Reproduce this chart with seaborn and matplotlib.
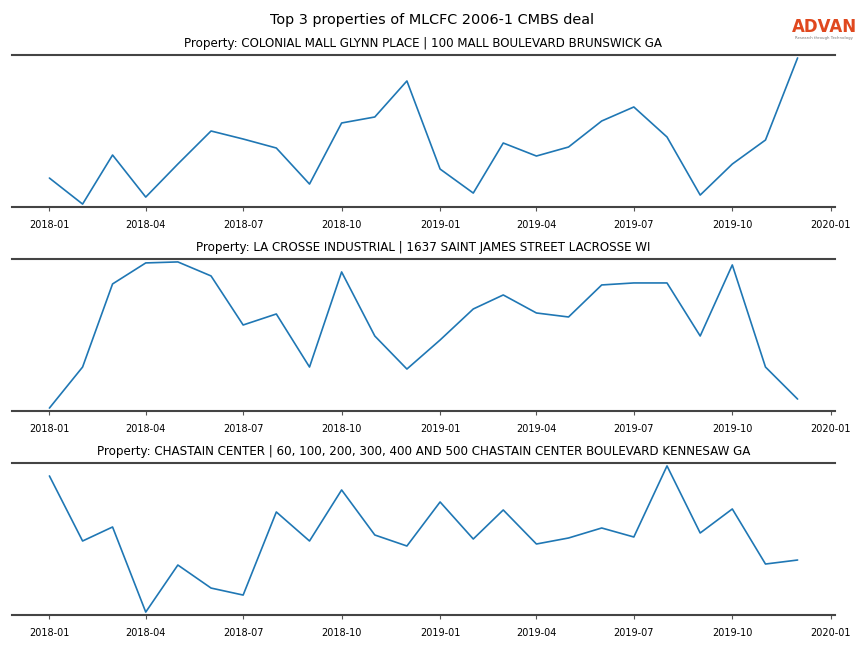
import matplotlib
matplotlib.use("Agg")
import matplotlib.pyplot as plt
import matplotlib.dates as mdates
import seaborn as sns
import pandas as pd

months = pd.date_range("2018-01-01", "2019-12-01", freq="MS")

titles = [
    "Property: COLONIAL MALL GLYNN PLACE | 100 MALL BOULEVARD BRUNSWICK GA",
    "Property: LA CROSSE INDUSTRIAL | 1637 SAINT JAMES STREET LACROSSE WI",
    "Property: CHASTAIN CENTER | 60, 100, 200, 300, 400 AND 500 CHASTAIN CENTER BOULEVARD KENNESAW GA",
]

colonial = [32, 6, 55, 13, 46, 79, 71, 62, 26, 87, 93, 129, 41, 17, 67, 54, 63, 89, 103, 73, 15, 46, 70, 152]
lacrosse = [6, 47, 130, 151, 152, 138, 89, 100, 47, 142, 78, 45, 74, 105, 119, 101, 97, 129, 131, 131, 78, 149, 47, 15]
chastain = [143, 78, 92, 7, 54, 31, 24, 107, 78, 129, 84, 73, 117, 80, 109, 75, 81, 91, 82, 153, 86, 110, 55, 59]

series = [colonial, lacrosse, chastain]

sns.set_style("white")
plt.rcParams.update({"text.color": "black", "xtick.color": "black", "axes.labelcolor": "black"})
fig = plt.figure(figsize=(8.64, 6.48), dpi=100)

left, width = 12 / 864, (835 - 12) / 864
tops = [55, 259, 463]
h_px = 152

for i, (vals, title) in enumerate(zip(series, titles)):
    bottom = 1 - (tops[i] + h_px) / 648
    ax = fig.add_axes([left, bottom, width, h_px / 648])
    df = pd.DataFrame({"date": months, "value": vals})
    sns.lineplot(data=df, x="date", y="value", ax=ax, color="#1f77b4", linewidth=1.2)
    ax.margins(x=0.05, y=0.02)
    ax.set_xlabel("")
    ax.set_ylabel("")
    ax.set_yticks([])
    ax.xaxis.set_major_locator(mdates.MonthLocator(bymonth=[1, 4, 7, 10]))
    ax.xaxis.set_major_formatter(mdates.DateFormatter("%Y-%m"))
    ax.tick_params(axis="x", labelsize=7, length=3, width=0.8, color="#555555",
                   labelcolor="black", bottom=True, pad=6)
    for s in ["left", "right"]:
        ax.spines[s].set_visible(False)
    for s in ["top", "bottom"]:
        ax.spines[s].set_color("#444444")
        ax.spines[s].set_linewidth(1.5)
    ax.set_title(title, fontsize=8.6, pad=6, color="black")

fig.text(0.5, 1 - 20 / 648, "Top 3 properties of MLCFC 2006-1 CMBS deal",
         ha="center", va="center", fontsize=10.35, color="black")
fig.text(824 / 864, 1 - 27 / 648, "ADVAN", ha="center", va="center",
         fontsize=12, color="#e0481e", fontweight="semibold")
fig.text(824 / 864, 1 - 38 / 648, "Research through Technology", ha="center", va="center",
         fontsize=2.8, color="#777777")

fig.savefig("out.png", dpi=100)
